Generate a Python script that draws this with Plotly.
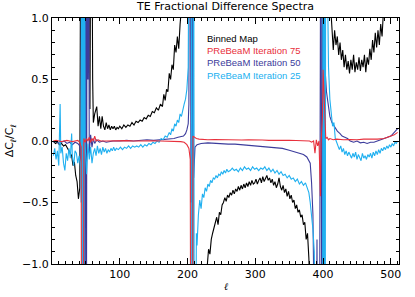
import plotly.graph_objects as go

# ---------------- data ----------------
ell_binned = [2, 5, 8, 11, 14, 17, 20, 23, 26, 29, 31, 33, 35, 37, 39, 41, 43, 45, 47, 49, 51, 53, 55, 56, 58, 60,
              61, 63, 66, 68, 70, 72, 74, 76, 78, 80, 82, 84, 86, 88, 90, 92, 94, 96, 98, 100, 103, 106, 109, 112,
              115, 118, 121, 124, 127, 130, 133, 136, 139, 142, 145, 148, 151, 154, 157, 160, 163, 165, 167, 169,
              171, 173, 175, 177, 179, 181, 183, 185, 187, 189, 191, 195, 200, 205, 207, 208, 215, 222, 228, 229,
              231, 233, 235, 237, 239, 241, 243, 245, 247, 249, 251, 253, 255, 257, 259, 261, 263, 265, 267, 269,
              271, 273, 275, 277, 279, 281, 283, 285, 287, 289, 291, 293, 295, 297, 299, 301, 303, 305, 307, 309,
              311, 313, 315, 317, 319, 321, 323, 325, 327, 329, 331, 333, 335, 337, 339, 341, 343, 345, 347, 349,
              351, 353, 355, 357, 359, 361, 363, 365, 367, 369, 371, 373, 375, 377, 379, 381, 385, 392, 398, 400,
              405, 410, 413, 415, 417, 419, 421, 423, 425, 427, 429, 431, 433, 435, 437, 439, 441, 443, 445, 447,
              449, 451, 453, 455, 457, 459, 461, 463, 465, 467, 469, 471, 473, 475, 477, 479, 481, 483, 485, 487,
              489, 491, 495, 500, 505, 510]
dcl_binned = [0.00, -0.02, -0.01, -0.03, -0.02, -0.04, -0.03, -0.06, -0.08, -0.12, -0.20, -0.17, -0.28, -0.33,
              -0.47, -0.38, 3.0, 1.5, 3.0, 0.8, 3.0, 1.2, 3.0, 0.26, 3.0, 0.5,
              0.15, 0.22, 0.28, 0.12, 0.20, 0.10, 0.20, 0.12, 0.09, 0.15, 0.10, 0.13, 0.09, 0.12, 0.10, 0.12, 0.09,
              0.11, 0.10, 0.12, 0.10, 0.13, 0.11, 0.13,
              0.12, 0.15, 0.13, 0.16, 0.15, 0.17, 0.16, 0.19, 0.18, 0.21, 0.20, 0.24, 0.23, 0.27, 0.25, 0.30, 0.28,
              0.38, 0.33, 0.42,
              0.40, 0.55, 0.50, 0.62, 0.58, 0.78, 0.72, 0.85, 0.75, 0.95, 1.10, 1.40, 1.60, 2.0, 3.0, -3.0, -2.0,
              -1.5, -1.1, -0.95,
              -0.88, -0.92, -0.80, -0.75, -0.70, -0.66, -0.62, -0.68, -0.58, -0.60, -0.52, -0.50, -0.46, -0.49,
              -0.44, -0.46, -0.42, -0.44, -0.40, -0.43,
              -0.39, -0.41, -0.37, -0.40, -0.36, -0.39, -0.35, -0.38, -0.34, -0.37, -0.33, -0.36, -0.32, -0.35,
              -0.34, -0.31, -0.35, -0.32, -0.30, -0.34,
              -0.29, -0.33, -0.30, -0.28, -0.32, -0.30, -0.34, -0.31, -0.36, -0.33, -0.38, -0.35, -0.30, -0.37,
              -0.40, -0.36, -0.42, -0.39, -0.45, -0.41,
              -0.47, -0.44, -0.50, -0.48, -0.55, -0.52, -0.58, -0.56, -0.62, -0.60, -0.68, -0.66, -0.80, -0.75,
              -0.95, -1.30, -2.0, -2.0, -2.0, 2.0,
              2.0, 1.20, 0.95, 0.74, 0.90, 0.78, 0.85, 0.70, 0.80, 0.66, 0.74, 0.60, 0.70, 0.58, 0.65, 0.55, 0.66,
              0.58, 0.70, 0.56,
              0.64, 0.58, 0.68, 0.57, 0.66, 0.60, 0.70, 0.56, 0.68, 0.62, 0.75, 0.66, 0.82, 0.72, 0.88, 0.76, 0.90,
              0.78, 0.95, 0.85,
              1.05, 1.20, 1.40, 1.50, 1.60, 1.70]

ell_it75 = [2, 6, 10, 14, 18, 22, 26, 30, 34, 38, 41, 43, 44, 46, 47, 49, 51, 53, 55, 57, 59, 61, 63, 65, 68, 72,
            80, 90, 100, 110, 120, 130, 140, 150, 160, 170, 180, 190, 195, 199, 202, 204, 205, 207, 208, 210, 213,
            217, 222, 230, 240, 250, 260, 270, 280, 290, 300, 310, 320, 330, 340, 350, 360, 370, 380, 383, 386,
            388, 390, 392, 394, 396, 397, 399, 400, 402, 404, 406, 408, 410, 415, 420, 430, 440, 450, 460, 470,
            480, 490, 500, 505, 510]
dcl_it75 = [0.0, 0.005, 0.0, -0.005, 0.0, 0.005, 0.0, -0.005, 0.0, 0.005, -0.01, -0.05, -3.0, -3.0, 0.02, -0.01,
            0.02, 0.0, 0.03, -0.01, 0.02, 0.0, 0.04, 0.0, 0.01, 0.0,
            0.0, 0.003, 0.0, 0.003, 0.0, 0.002, 0.0, 0.002, 0.0, -0.002, 0.0, -0.005, -0.01, -0.03, -0.06, -0.15,
            -3.0, -3.0, 0.04, 0.03, 0.02,
            0.015, 0.012, 0.01, 0.012, 0.01, 0.008, 0.01, 0.008, 0.01, 0.006, 0.008, 0.005, 0.007, 0.005, 0.006,
            0.004, 0.005, 0.0, -0.01, 0.0,
            -0.10, 0.01, -0.04, 0.0, -0.45, -0.02, 0.20, 0.58, 0.30, 0.02, 0.03, 0.01, 0.02, 0.01, 0.015, 0.01,
            0.012, 0.01, 0.015, 0.012,
            0.015, 0.02, 0.04, 0.05, 0.07]

ell_it50 = [2, 6, 10, 14, 18, 22, 26, 30, 34, 38, 41, 43, 44, 45, 46, 47, 48, 49, 50, 51, 52, 53, 54, 55, 57, 59,
            61, 63, 66, 70, 75, 80, 90, 100, 110, 120, 130, 140, 150, 160, 170, 180, 186, 190, 194, 197, 199, 201,
            202, 203, 204, 205, 206, 207, 208, 209, 211, 214, 218, 220, 230, 240, 250, 260, 270, 280, 290, 300,
            310, 320, 330, 340, 350, 360, 366, 371, 376, 379, 381, 383, 385, 387, 389, 391, 393, 395, 397, 398,
            400, 401, 402, 403, 405, 408, 410, 413, 416, 418, 421, 425, 428, 432, 436, 440, 445, 450, 455, 460,
            465, 470, 475, 480, 485, 490, 495, 500, 505, 510]
dcl_it50 = [-0.01, 0.0, -0.02, -0.01, 0.0, -0.02, -0.01, -0.03, -0.01, -0.02, -0.04, -0.20, 3.0, -3.0, 3.0, -3.0,
            3.0, -2.0, 3.0, -1.0, 3.0, 0.5, 2.0, -0.10, 0.05, -0.05,
            0.02, -0.02, 0.01, -0.01, 0.0, -0.01, 0.0, 0.0, 0.005, 0.0, 0.005, 0.01, 0.005, 0.01, 0.015, 0.02,
            0.03, 0.035, 0.04, 0.06, 0.09, 0.14,
            0.30, 3.0, 3.0, -0.5, 3.0, -2.0, 3.0, -0.3, -0.05, -0.03, -0.02, -0.02, -0.015, -0.02, -0.02, -0.025,
            -0.025, -0.03, -0.03, -0.035,
            -0.04, -0.045, -0.05, -0.06, -0.075, -0.09, -0.10, -0.11, -0.13, -0.16, -0.18, -0.34, -0.60, -1.5,
            -3.0, -0.8, -3.0, -1.2, 3.0, -3.0,
            3.0, -3.0, 3.0, 0.58, 0.40, 0.28, 0.20, 0.15, 0.12, 0.10, 0.08, 0.06, 0.04, 0.03, 0.02, 0.0, -0.01,
            0.0, -0.015, -0.01,
            -0.02, -0.01, -0.01, 0.0, 0.01, 0.02, 0.03, 0.04, 0.07, 0.10]

ell_it25 = [2, 4, 6, 8, 10, 12, 13, 15, 17, 19, 21, 23, 25, 27, 29, 30, 32, 34, 36, 38, 40, 42, 43, 44, 45, 46,
            47, 48, 49, 51, 53, 55, 57, 59, 61, 63, 65, 67, 69, 71, 73, 75, 77, 79, 81, 83, 85, 87, 89, 91, 93, 95,
            98, 101, 104, 107, 110, 113, 116, 119, 122, 125, 128, 131, 134, 137, 140, 143, 146, 149, 152, 155,
            158, 161, 164, 167, 170, 173, 175, 177, 179, 181, 183, 185, 187, 189, 191, 193, 195, 197, 199, 201,
            202, 203, 205, 207, 209, 210, 212, 213, 214, 216, 218, 220, 222, 224, 226, 228, 230, 232, 234, 236,
            238, 240, 242, 244, 246, 248, 250, 252, 254, 256, 258, 260, 263, 266, 269, 272, 275, 278, 281, 284,
            287, 290, 293, 296, 299, 302, 305, 308, 311, 314, 317, 320, 323, 326, 329, 332, 335, 338, 341, 344,
            347, 350, 353, 356, 359, 362, 365, 368, 371, 374, 377, 379, 381, 383, 385, 387, 389, 391, 399, 400,
            401, 402, 403, 404, 406, 408, 410, 412, 414, 416, 418, 420, 422, 424, 426, 428, 430, 432, 434, 436,
            438, 440, 442, 444, 446, 448, 450, 452, 454, 456, 458, 460, 462, 464, 466, 468, 470, 472, 474, 476,
            478, 480, 482, 484, 486, 488, 490, 492, 494, 496, 498, 500, 502, 504, 506, 508, 510]
dcl_it25 = [-0.12, -0.06, -0.15, -0.08, -0.20, 0.30, -0.10, -0.05, -0.18, -0.24, -0.10, -0.16, -0.06, -0.14, 0.06,
            -0.12, -0.20, -0.08, -0.10, -0.18, -0.12, -0.20, -0.50, 3.0, -3.0, 3.0,
            -3.0, 2.0, -0.04, -0.27, -0.02, -0.15, -0.05, -0.18, -0.10, -0.06, -0.12, -0.04, -0.10, -0.06, -0.11,
            -0.05, -0.09, -0.06, -0.10, -0.07, -0.09, -0.06, -0.08, -0.05, -0.08, -0.06,
            -0.07, -0.05, -0.07, -0.05, -0.06, -0.04, -0.06, -0.04, -0.05, -0.04, -0.05, -0.03, -0.05, -0.03,
            -0.04, -0.02, -0.03, -0.01, -0.02, 0.0,
            -0.01, 0.02, 0.01, 0.04, 0.03, 0.07, 0.05, 0.10, 0.08, 0.14, 0.12, 0.17, 0.15, 0.22, 0.20, 0.26, 0.30,
            0.34, 0.42, 0.60,
            1.5, 3.0, 3.0, -3.0, 3.0, -3.0, -2.0, -0.75, -0.85, -0.60, -0.48, -0.55, -0.43, -0.46, -0.38, -0.41,
            -0.35, -0.37, -0.32, -0.34,
            -0.30, -0.31, -0.28, -0.30, -0.27, -0.28, -0.25, -0.27, -0.24, -0.26, -0.23, -0.25, -0.24, -0.22,
            -0.24, -0.23, -0.25, -0.22, -0.24, -0.21,
            -0.23, -0.22, -0.24, -0.21, -0.23, -0.22, -0.24, -0.22, -0.23, -0.21, -0.24, -0.22, -0.25, -0.23,
            -0.26, -0.24, -0.27, -0.25, -0.28, -0.27,
            -0.30, -0.28, -0.31, -0.30, -0.33, -0.31, -0.35, -0.33, -0.36, -0.34, -0.38, -0.42, -0.50, -0.60,
            -0.72, -0.90, -1.5, -3.0, -3.0, 3.0,
            -3.0, 3.0, -3.0, 3.0, 1.5, 0.60, 0.34, 0.25, 0.12, 0.15, 0.02, -0.01, -0.05, -0.07, -0.04, -0.09,
            -0.06, -0.11, -0.08, -0.12,
            -0.09, -0.11, -0.14, -0.10, -0.13, -0.09, -0.15, -0.11, -0.13, -0.16, -0.10, -0.14, -0.12, -0.15,
            -0.11, -0.13, -0.10, -0.14, -0.09, -0.12,
            -0.08, -0.11, -0.07, -0.10, -0.06, -0.08, -0.05, -0.07, -0.04, -0.06, -0.03, -0.05, -0.02, -0.04,
            -0.01, -0.02, 0.0]

series_names = ["Binned Map", "PReBeaM Iteration 75", "PReBeaM Iteration 50", "PReBeaM Iteration 25"]
series_colors = ["#000000", "#e8303c", "#3c3c9c", "#20b0f0"]

x_tickvals = [100, 200, 300, 400, 500]
y_tickvals = [-1.0, -0.5, 0.0, 0.5, 1.0]

# ---------------- figure ----------------
fig = go.Figure()
traces = [
    (ell_binned, dcl_binned, 0),
    (ell_it50, dcl_it50, 2),
    (ell_it25, dcl_it25, 3),
    (ell_it75, dcl_it75, 1),
]
for xs, ys, k in traces:
    fig.add_trace(go.Scatter(x=xs, y=ys, mode="lines", name=series_names[k],
                             line=dict(color=series_colors[k], width=1.1), showlegend=False))

legend_y = [0.915, 0.867, 0.819, 0.766]
for k in range(4):
    fig.add_annotation(x=0.441, y=legend_y[k], xref="paper", yref="paper", text=series_names[k],
                       showarrow=False, xanchor="left", yanchor="middle",
                       font=dict(family="Liberation Sans, Arial", size=9.5, color=series_colors[k]))

fig.add_annotation(x=-0.12, y=0.5, xref="paper", yref="paper",
                   text="ΔC<sub>ℓ</sub>/C<sub>ℓ</sub>", textangle=-90, showarrow=False,
                   xanchor="center", yanchor="middle",
                   font=dict(family="DejaVu Sans", size=11, color="black"))
fig.add_annotation(x=0.5, y=-0.093, xref="paper", yref="paper", text="<i>ℓ</i>", showarrow=False,
                   xanchor="center", yanchor="middle", font=dict(family="DejaVu Serif", size=10, color="black"))

axis_common = dict(showline=True, linecolor="black", linewidth=1, mirror="allticks", ticks="inside",
                   tickcolor="black", showgrid=False, zeroline=False,
                   tickfont=dict(family="DejaVu Sans", size=11, color="black"))
fig.update_xaxes(range=[0, 512], tickvals=x_tickvals, ticklen=6,
                 minor=dict(ticks="inside", ticklen=3, dtick=10, tick0=0, tickcolor="black", showgrid=False),
                 **axis_common)
fig.update_yaxes(range=[-1, 1], tickvals=y_tickvals, tickformat=".1f", ticklen=6,
                 minor=dict(ticks="inside", ticklen=3, dtick=0.1, tick0=0, tickcolor="black", showgrid=False),
                 **axis_common)

fig.update_layout(
    width=415, height=297,
    margin=dict(l=52, r=16, t=16, b=33),
    paper_bgcolor="white", plot_bgcolor="white",
    title=dict(text="TE Fractional Difference Spectra", x=0.5, xref="paper", y=0.978, yanchor="middle",
               font=dict(family="DejaVu Sans", size=11, color="black")),
)

fig.write_html("out.html", config={"displayModeBar": False},
               post_script="document.body.style.margin='0';document.body.style.overflow='hidden';")
